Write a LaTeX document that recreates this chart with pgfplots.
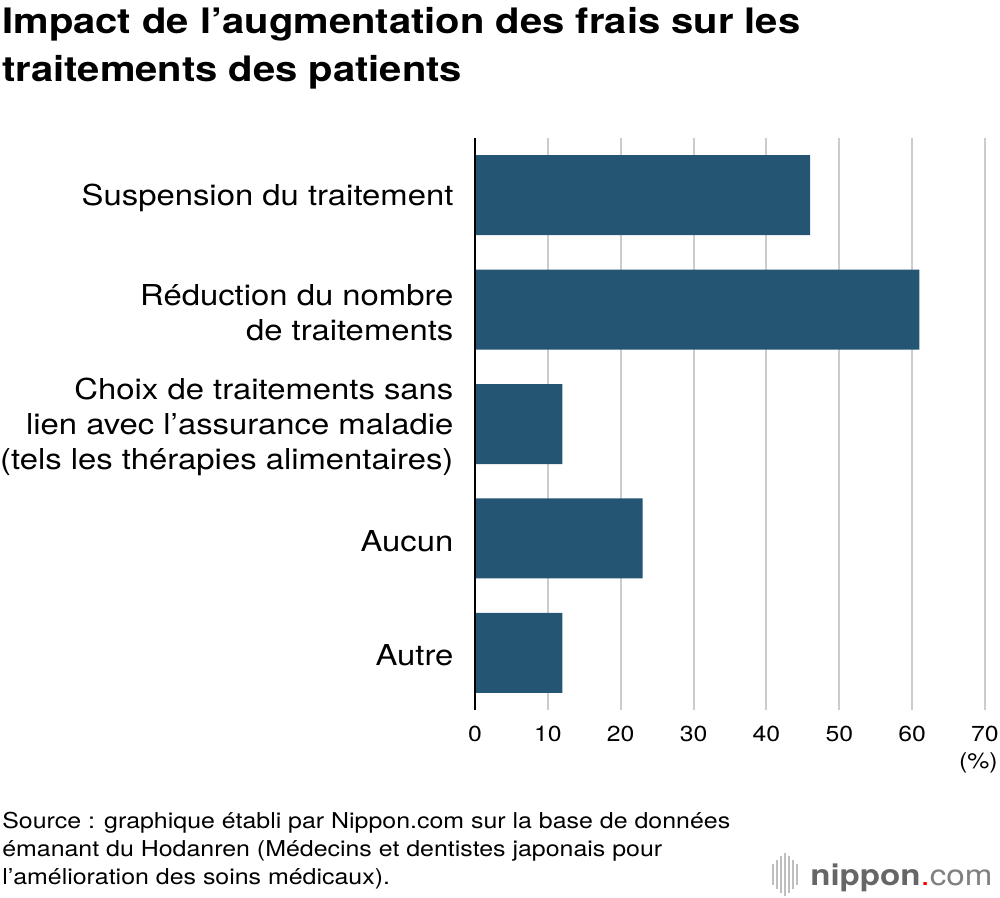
\documentclass[border=0pt]{standalone}
\usepackage{fontspec}
\setmainfont{TeX Gyre Heros}[FakeStretch=1.14]
\usepackage{pgfplots}
\pgfplotsset{compat=1.18}
\definecolor{barc}{HTML}{245674}
\definecolor{gridc}{HTML}{CCCCCC}
\begin{document}
\begin{tikzpicture}
\path[use as bounding box] (0pt,0pt) rectangle (750pt,-673.5pt);
% title
\node[anchor=base west, inner sep=0pt, font=\fontsize{26.3pt}{30pt}\selectfont\bfseries] at (1.5pt,-25.5pt) {Impact de l’augmentation des frais sur les};
\node[anchor=base west, inner sep=0pt, font=\fontsize{26.3pt}{30pt}\selectfont\bfseries] at (1.5pt,-61.5pt) {traitements des patients};
\begin{axis}[
  at={(356.25pt,-532.5pt)}, anchor=south west,
  scale only axis, width=382.5pt, height=429pt,
  xbar, bar width=60pt,
  xmin=0, xmax=70, ymin=-0.5, ymax=4.5, y dir=reverse,
  xtick={0,10,...,70}, ytick={0,1,2,3,4},
  yticklabels={{Suspension du traitement},{Réduction du nombre\\de traitements},{Choix de traitements sans\\lien avec l’assurance maladie\\(tels les thérapies alimentaires)},{Aucun},{Autre}},
  axis line style={draw=none},
  major tick style={draw=none},
  xmajorgrids, major grid style={gridc, line width=1.5pt},
  /pgf/number format/assume math mode=true,
  xticklabel style={font=\fontsize{16.3pt}{19pt}\selectfont, inner sep=0pt, yshift=-12pt},
  yticklabel style={font=\fontsize{21.6pt}{26.25pt}\selectfont, align=right, inner sep=0pt, xshift=-11.75pt, yshift=-2pt},
  clip=false,
]
\addplot[fill=barc, draw=none] coordinates {(46,0) (61,1) (12,2) (23,3) (12,4)};
\draw[black, line width=1.2pt] (axis cs:0,-0.5) -- (axis cs:0,4.5);
\end{axis}
\node[anchor=east, inner sep=0pt, font=\fontsize{16.3pt}{19pt}\selectfont] at (748.5pt,-572pt) {(\%)};
% source
\node[anchor=base west, inner sep=0pt, font=\fontsize{16.4pt}{21pt}\selectfont] at (1.5pt,-621pt) {Source : graphique établi par Nippon.com sur la base de données};
\node[anchor=base west, inner sep=0pt, font=\fontsize{16.4pt}{21pt}\selectfont] at (1.5pt,-642pt) {émanant du Hodanren (Médecins et dentistes japonais pour};
\node[anchor=base west, inner sep=0pt, font=\fontsize{16.4pt}{21pt}\selectfont] at (1.5pt,-663pt) {l’amélioration des soins médicaux).};
% logo
\foreach \xx/\hh in {580/8,583/11,586/14,589/16,592/14,595/11,598/8}{
  \draw[gray!50, line width=1.3pt] (\xx pt,-656pt+\hh pt) -- (\xx pt,-656pt-\hh pt);
}
\node[anchor=base west, inner sep=0pt, font=\fontsize{21.8pt}{25pt}\selectfont] at (607.5pt,-663.75pt) {\textbf{\textcolor{black!60}{nippon}}\textcolor{red}{.}\textcolor{black!50}{com}};
\end{tikzpicture}
\end{document}
